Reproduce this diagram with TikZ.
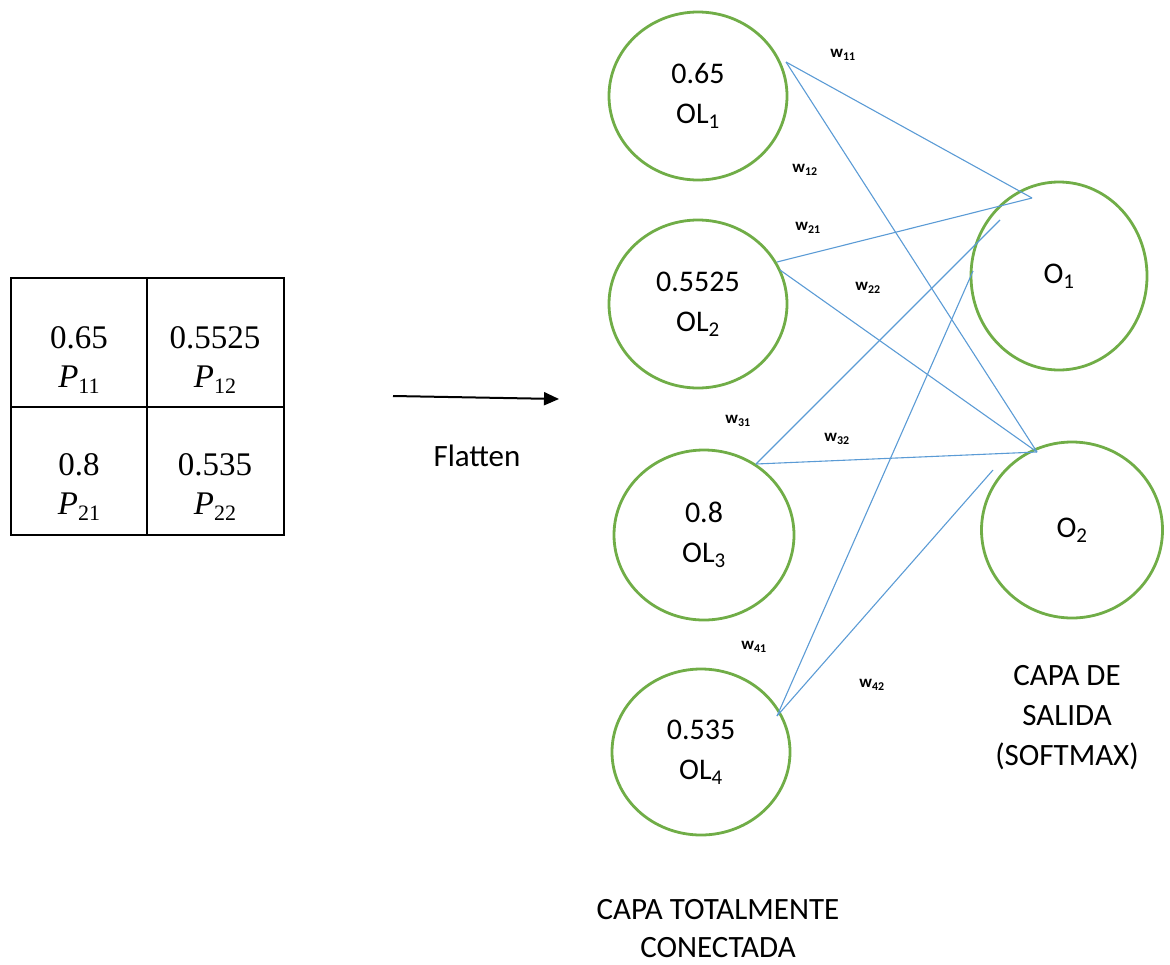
\documentclass[tikz,border=0pt]{standalone}
\usepackage{fontspec}
\setmainfont{Carlito}
\newfontfamily\cellfont{Liberation Serif}
\usetikzlibrary{shapes.geometric,arrows.meta}
\definecolor{neurongreen}{HTML}{70AD47}
\definecolor{weightblue}{HTML}{5B9BD5}
\newcommand{\cellval}[2]{#1\\{\itshape P}\raisebox{-6pt}{\fontsize{22}{22}\selectfont #2}}
\begin{document}
\begin{tikzpicture}[x=1pt,y=-1pt,
  neuron/.style={ellipse, draw=neurongreen, line width=2.8pt, inner sep=0pt,
    align=center, font=\fontsize{30}{40}\selectfont},
  cell/.style={align=center, font=\cellfont\fontsize{33}{39}\selectfont},
  wlab/.style={font=\bfseries\fontsize{17}{18}\selectfont, inner sep=0pt},
  caption/.style={align=center, inner sep=0pt, font=\fontsize{31}{38}\selectfont},
  link/.style={draw=weightblue, line width=1.1pt}]
\useasboundingbox (0,0) rectangle (1170,964);

% pooled feature map
\draw[line width=1.3pt] (11,278) rectangle (284,535);
\draw[line width=1.3pt] (147,278) -- (147,535);
\draw[line width=1.3pt] (11,407) -- (284,407);
\node[cell] (c11) at (79,360) {\cellval{0.65}{11}};
\node[cell] (c12) at (215,360) {\cellval{0.5525}{12}};
\node[cell] (c21) at (79,487) {\cellval{0.8}{21}};
\node[cell] (c22) at (215,487) {\cellval{0.535}{22}};

% flatten arrow
\coordinate (fa) at (393,396);
\coordinate (fb) at (559,399);
\draw[line width=2pt, -{Triangle[length=15pt,width=13pt]}] (fa) -- (fb);
\node[caption] (flat) at (477,456) {Flatten};

% fully connected layer
\node[neuron, minimum width=178pt, minimum height=168pt] (ol1) at (698,96) {0.65\\OL\textsubscript{1}};
\node[neuron, minimum width=178pt, minimum height=168pt] (ol2) at (698,304) {0.5525\\OL\textsubscript{2}};
\node[neuron, minimum width=180pt, minimum height=170pt] (ol3) at (704,535) {0.8\\OL\textsubscript{3}};
\node[neuron, minimum width=178pt, minimum height=166pt] (ol4) at (701,752) {0.535\\OL\textsubscript{4}};

% output layer
\node[neuron, minimum width=176pt, minimum height=188pt] (o1) at (1059,276) {O\textsubscript{1}};
\node[neuron, minimum width=181pt, minimum height=176pt] (o2) at (1072,530) {O\textsubscript{2}};

% connection end points
\coordinate (s1) at (786,62);
\coordinate (s2a) at (777,262);
\coordinate (s2b) at (780,270);
\coordinate (s3) at (756,464);
\coordinate (s4) at (777,716);
\coordinate (t1a) at (1032,198);
\coordinate (t1b) at (1000,220);
\coordinate (t1c) at (973,271);
\coordinate (t2a) at (1037,452);
\coordinate (t2b) at (993,470);

\draw[link] (s1) -- (t1a);
\draw[link] (s1) -- (t2a);
\draw[link] (s2a) -- (t1a);
\draw[link] (s2b) -- (t2a);
\draw[link] (s3) -- (t1b);
\draw[link] (s3) -- (t2a);
\draw[link] (s4) -- (t1c);
\draw[link] (s4) -- (t2b);

% weight labels
\node[wlab] (w11) at (843,55) {w\textsubscript{11}};
\node[wlab] (w12) at (805,170) {w\textsubscript{12}};
\node[wlab] (w21) at (808,228) {w\textsubscript{21}};
\node[wlab] (w22) at (868,288) {w\textsubscript{22}};
\node[wlab] (w31) at (738,421) {w\textsubscript{31}};
\node[wlab] (w32) at (837,439) {w\textsubscript{32}};
\node[wlab] (w41) at (754,647) {w\textsubscript{41}};
\node[wlab] (w42) at (872,685) {w\textsubscript{42}};

% layer captions
\node[caption, font=\fontsize{31}{40}\selectfont] (outcap) at (1067,718) {CAPA DE\\SALIDA\\(SOFTMAX)};
\node[caption] (fccap) at (718,929) {CAPA TOTALMENTE\\CONECTADA};
\end{tikzpicture}
\end{document}
